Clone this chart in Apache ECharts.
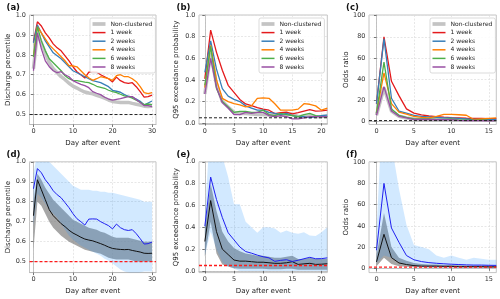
<!DOCTYPE html>
<html><head><meta charset="utf-8">
<script src="https://cdn.jsdelivr.net/npm/echarts@6/dist/echarts.min.js"></script>
<style>html,body{margin:0;padding:0;background:#fff}#c{width:500px;height:299px}</style>
</head><body><div id="c"></div><script>
// ---------------- data ----------------
const daysLong = [0,1,2,3,4,5,6,7,8,9,10,11,12,13,14,15,16,17,18,19,20,21,22,23,24,25,26,27,28,29,30];
const daysMid = [0,1,2,3,4,5,6,7,8,9,10,11,12,13,14,15,16,17,18,19,20,21];
const daysShort = [0,1,2,3,4,5,6,7,8,9,10,11,12,13,14,15,16];

const seriesNames = ['Non-clustered','1 week','2 weeks','4 weeks','6 weeks','8 weeks'];

// (a) discharge percentile
const pctNC  = [0.73,0.91,0.86,0.81,0.76,0.73,0.71,0.69,0.675,0.657,0.643,0.633,0.622,0.613,0.608,0.604,0.597,0.59,0.582,0.573,0.566,0.563,0.561,0.56,0.561,0.556,0.552,0.548,0.542,0.541,0.542];
const pct1w  = [0.865,0.966,0.945,0.91,0.885,0.855,0.835,0.82,0.795,0.77,0.74,0.715,0.70,0.683,0.713,0.714,0.713,0.70,0.69,0.68,0.664,0.688,0.67,0.66,0.656,0.66,0.64,0.615,0.588,0.59,0.598];
const pct2w  = [0.86,0.95,0.91,0.87,0.84,0.81,0.795,0.78,0.76,0.74,0.72,0.71,0.70,0.69,0.68,0.67,0.665,0.66,0.65,0.64,0.622,0.617,0.612,0.60,0.592,0.588,0.578,0.567,0.548,0.558,0.568];
const pct4w  = [0.79,0.94,0.91,0.88,0.85,0.83,0.81,0.79,0.77,0.745,0.745,0.74,0.72,0.70,0.685,0.672,0.68,0.69,0.685,0.68,0.672,0.695,0.70,0.69,0.69,0.68,0.665,0.64,0.61,0.605,0.61];
const pct6w  = [0.79,0.94,0.87,0.82,0.78,0.76,0.74,0.72,0.695,0.68,0.672,0.67,0.667,0.663,0.66,0.652,0.642,0.637,0.632,0.622,0.615,0.61,0.602,0.594,0.59,0.582,0.572,0.562,0.55,0.553,0.55];
const pct8w  = [0.72,0.91,0.83,0.77,0.74,0.72,0.71,0.715,0.70,0.69,0.67,0.66,0.652,0.645,0.635,0.615,0.607,0.60,0.587,0.578,0.572,0.576,0.58,0.585,0.59,0.59,0.575,0.56,0.545,0.545,0.54];
// (d) spreads
const pctNCLow  = [0.56,0.80,0.78,0.74,0.70,0.67,0.65,0.63,0.615,0.60,0.59,0.58,0.57,0.56,0.555,0.55,0.545,0.54,0.53,0.52,0.515,0.51,0.51,0.51,0.51,0.505,0.50,0.50,0.50,0.50,0.50];
const pctNCHigh = [0.80,0.94,0.91,0.87,0.84,0.81,0.79,0.77,0.75,0.73,0.71,0.70,0.69,0.68,0.67,0.665,0.66,0.65,0.645,0.635,0.625,0.62,0.62,0.62,0.62,0.615,0.61,0.605,0.60,0.60,0.60];
const pct1wLow  = [0.68,0.84,0.82,0.79,0.76,0.74,0.72,0.69,0.66,0.63,0.61,0.595,0.58,0.57,0.56,0.55,0.54,0.53,0.515,0.505,0.49,0.475,0.46,0.45,0.445,0.44,0.44,0.445,0.45,0.45,0.45];
const pct1wHigh = [0.94,1.05,1.04,1.02,1.0,0.98,0.96,0.94,0.92,0.9,0.88,0.87,0.86,0.86,0.86,0.855,0.855,0.85,0.85,0.845,0.845,0.84,0.835,0.83,0.825,0.82,0.815,0.81,0.80,0.80,0.80];

// (b) Q95 exceedance probability
const q95NC = [0.27,0.645,0.36,0.2,0.15,0.1,0.09,0.09,0.085,0.08,0.08,0.075,0.07,0.07,0.075,0.085,0.06,0.065,0.07,0.06,0.062,0.066];
const q951w = [0.41,0.86,0.655,0.49,0.35,0.285,0.22,0.178,0.163,0.145,0.13,0.12,0.088,0.097,0.103,0.087,0.098,0.112,0.125,0.112,0.113,0.12];
const q952w = [0.47,0.76,0.5,0.32,0.25,0.22,0.2,0.16,0.14,0.12,0.12,0.1,0.09,0.08,0.09,0.07,0.06,0.06,0.05,0.06,0.07,0.075];
const q954w = [0.33,0.72,0.4,0.23,0.2,0.18,0.17,0.15,0.16,0.23,0.235,0.23,0.18,0.12,0.12,0.12,0.13,0.18,0.175,0.16,0.12,0.14];
const q956w = [0.35,0.71,0.32,0.2,0.15,0.1,0.11,0.11,0.1,0.1,0.12,0.08,0.07,0.09,0.08,0.07,0.06,0.08,0.09,0.07,0.06,0.06];
const q958w = [0.27,0.6,0.33,0.19,0.14,0.08,0.08,0.1,0.09,0.1,0.1,0.07,0.06,0.07,0.06,0.04,0.04,0.05,0.06,0.06,0.06,0.06];
// (e) spreads
const q95NCLow  = [0.13,0.45,0.16,0.06,0.04,0.025,0.02,0.02,0.02,0.02,0.02,0.015,0.015,0.015,0.02,0.02,0.01,0.01,0.01,0.01,0.01,0.01];
const q95NCHigh = [0.40,0.80,0.55,0.36,0.27,0.21,0.18,0.16,0.15,0.14,0.14,0.13,0.12,0.12,0.13,0.14,0.11,0.11,0.12,0.11,0.11,0.11];
const q951wLow  = [0.14,0.36,0.2,0.08,0.04,0.02,0,0,0,0,0,0,0,0,0,0,0,0,0,0,0,0];
const q951wHigh = [0.5,1.4,1.3,1.05,0.86,0.61,0.61,0.45,0.4,0.35,0.4,0.4,0.39,0.35,0.37,0.35,0.34,0.355,0.325,0.32,0.355,0.4];

// (c) odds ratio
const orNC = [6,32,10,5,3.5,2.5,2,2,2,1.8,1.8,1.5,1.5,1.5,1.5,1.3,1.3];
const or1w = [17,80,38,24.5,12,8,6.3,5.3,4.7,4.2,3.8,3.5,3.2,3,3,2.8,2.7];
const or2w = [17,78,22,10,8,6,5,4.5,4,3.5,3.5,3,2.5,2,2,2,2];
const or4w = [8,46,17,9,7,5,4,3.5,5,6.8,6.8,6.5,6,2,2.5,3,3.5];
const or6w = [8,56,12,6,4,2.5,2.5,2.5,2,2,2.5,1.5,1.5,1.5,1.5,1.2,1];
const or8w = [6,33,10,5,3.5,2,2,2,1.8,1.8,1.8,1.2,1,1.2,1,0.8,1];
// (f) spreads
const orNCLow  = [2,10,4,2,1.5,1,1,0.8,0.8,0.7,0.7,0.6,0.6,0.6,0.6,0.5,0.5];
const orNCHigh = [12,52,20,10,7,5,4,3.5,3.5,3,3,2.8,2.7,2.7,2.6,2.5,2.5];
const or1wLow  = [5,12,10,6,3,2,1.5,1.2,1,1,1,0.8,0.8,0.8,0.8,0.7,0.7];
const or1wHigh = [35,180,117,75,41,22,20,18,12,10,12,10,8,10,9,8,8];

// reference levels
const refPct = 0.5, refQ95 = 0.05, refOR = 1;

// tick labels
const xTicksLong = [0,10,20,30];
const xTicksMid = [0,5,10,15,20];
const xTicksShort = [0,5,10,15];
const yTicksPct = [0.5,0.6,0.7,0.8,0.9,1.0];
const yTicksQ95 = [0,0.2,0.4,0.6,0.8,1.0];
const yTicksOR = [0,20,40,60,80,100];

// ---------------- styling ----------------
const FONT = 'DejaVu Sans';
const colors = ['#c4c4c4','#e41a1c','#377eb8','#ff7f00','#4daf4a','#984ea3'];

const grids = [
  {left:29.5, top:15, width:126.5, height:109.5},
  {left:199, top:15, width:128.3, height:109.5},
  {left:369, top:15, width:127.3, height:109.5},
  {left:29.5, top:161.8, width:126.5, height:110.8},
  {left:199, top:161.8, width:128.3, height:110.8},
  {left:369, top:161.8, width:127.3, height:110.8}
].map(g => Object.assign(g, {show:true, borderColor:'#b5b5b5', borderWidth:0.8, backgroundColor:'transparent'}));

function xAx(gi, min, max, ticks) {
  return {type:'value', gridIndex:gi, min, max,
    name:'Day after event', nameLocation:'middle', nameGap:15,
    nameTextStyle:{fontSize:7, color:'#222', fontFamily:FONT},
    axisLine:{show:true, lineStyle:{color:'#b5b5b5', width:0.8}},
    axisTick:{show:true, length:2.5, customValues:ticks, lineStyle:{color:'#555', width:0.8}},
    axisLabel:{customValues:ticks, fontSize:6.5, color:'#333', margin:3.5, fontFamily:FONT},
    splitLine:{show:true, lineStyle:{color:'#dcdcdc', type:[2,1.5], width:0.7}}};
}
function yAx(gi, min, max, ticks, name, gap, dec) {
  return {type:'value', gridIndex:gi, min, max,
    name, nameLocation:'middle', nameGap:gap,
    nameTextStyle:{fontSize:7, color:'#222', fontFamily:FONT},
    axisLine:{show:true, lineStyle:{color:'#b5b5b5', width:0.8}},
    axisTick:{show:true, length:2.5, customValues:ticks, lineStyle:{color:'#555', width:0.8}},
    axisLabel:{customValues:ticks, fontSize:6.5, color:'#333', margin:3.5, fontFamily:FONT,
      formatter: v => dec ? Number(v).toFixed(1) : String(Math.round(v))},
    splitLine:{show:true, lineStyle:{color:'#dcdcdc', type:[2,1.5], width:0.7}}};
}

const pairs = (xs, ys) => xs.map((x, i) => [x, ys[i]]);

function line(name, gi, xs, ys, color, width) {
  return {type:'line', name, xAxisIndex:gi, yAxisIndex:gi, data:pairs(xs, ys),
    symbol:'none', clip:true, silent:true, z:3,
    lineStyle:{color, width}, itemStyle:{color}};
}
// horizontal reference level drawn as a two-point line across the x range
function refLine(name, gi, xmin, xmax, y, color, width) {
  return {type:'line', name, xAxisIndex:gi, yAxisIndex:gi, data:[[xmin, y], [xmax, y]],
    symbol:'none', clip:true, silent:true, z:4,
    lineStyle:{color, width, type:[3,2]}, itemStyle:{color}};
}
// shaded spread between lo and hi, drawn as one polygon through the axis scales
function band(id, gi, xs, lo, hi, color, z) {
  return {type:'custom', name:id, xAxisIndex:gi, yAxisIndex:gi, clip:true, silent:true, z,
    data: xs.map((x, i) => [x, lo[i], hi[i]]),
    encode:{x:0, y:[1,2]},
    renderItem: (params, api) => {
      if (params.dataIndex !== 0) return null;
      const pts = [];
      for (let i = 0; i < xs.length; i++) pts.push(api.coord([xs[i], hi[i]]));
      for (let i = xs.length - 1; i >= 0; i--) pts.push(api.coord([xs[i], lo[i]]));
      return {type:'polygon', shape:{points:pts}, style:{fill:color}};
    }};
}

const xLims = [[-1,31],[-1,21],[-1,16],[-1,31],[-1,21],[-1,16]];
const series = [];
// top row
const topSets = [
  [0, daysLong, [pctNC,pct1w,pct2w,pct4w,pct6w,pct8w], refPct],
  [1, daysMid, [q95NC,q951w,q952w,q954w,q956w,q958w], refQ95],
  [2, daysShort, [orNC,or1w,or2w,or4w,or6w,or8w], refOR]
];
topSets.forEach(([gi, xs, sets, ref]) => {
  sets.forEach((ys, k) => {
    series.push(line(seriesNames[k], gi, xs, ys, colors[k], k === 0 ? 3.5 : 1.3));
  });
  series.push(refLine('ref-'+gi, gi, xLims[gi][0], xLims[gi][1], ref, '#222', 1));
});
// bottom row
const GRAYBAND = 'rgba(128,128,128,0.7)';
const BLUEBAND = 'rgba(30,144,255,0.2)';
const botSets = [
  [3, daysLong, pctNC, pct1w, pctNCLow, pctNCHigh, pct1wLow, pct1wHigh, refPct],
  [4, daysMid, q95NC, q951w, q95NCLow, q95NCHigh, q951wLow, q951wHigh, refQ95],
  [5, daysShort, orNC, or1w, orNCLow, orNCHigh, or1wLow, or1wHigh, refOR]
];
botSets.forEach(([gi, xs, nc, w1, ncLo, ncHi, wLo, wHi, ref]) => {
  series.push(band('nc-band-'+gi, gi, xs, ncLo, ncHi, GRAYBAND, 1));
  series.push(band('w-band-'+gi, gi, xs, wLo, wHi, BLUEBAND, 2));
  series.push(line('mean-nc-'+gi, gi, xs, nc, '#111', 1));
  series.push(line('mean-1w-'+gi, gi, xs, w1, '#2020f0', 1));
  series.push(refLine('ref-'+gi, gi, xLims[gi][0], xLims[gi][1], ref, '#ff1a1a', 1.3));
});

const thinIcon = 'path://M0,0L14,0L14,1.6L0,1.6Z';
const thickIcon = 'path://M0,0L14,0L14,4L0,4Z';
const legendData = seriesNames.map((n, k) => ({name:n, icon: k === 0 ? thickIcon : thinIcon,
  itemStyle:{color:colors[k], borderWidth:0}}));
const legendBase = {orient:'vertical', top:18, padding:[2.5,3,2.5,2.5], itemGap:1.6,
  itemWidth:13, itemHeight:4, borderColor:'#cccccc', borderWidth:0.7, borderRadius:2,
  backgroundColor:'rgba(255,255,255,0.85)', selectedMode:false, data:legendData,
  textStyle:{fontSize:6, lineHeight:7, color:'#222', fontFamily:FONT}};

const titlePos = [[6.5,3.5,'(a)'],[176.5,3.5,'(b)'],[346,3.5,'(c)'],[6.5,150.5,'(d)'],[176.5,150.5,'(e)'],[346,150.5,'(f)']];

const option = {
  animation:false,
  backgroundColor:'#fff',
  title: titlePos.map(([l,t,txt]) => ({text:txt, left:l, top:t, padding:0,
    textStyle:{fontSize:8.5, fontWeight:'bold', color:'#111', fontFamily:FONT}})),
  legend: [Object.assign({}, legendBase, {left:90}),
           Object.assign({}, legendBase, {left:259}),
           Object.assign({}, legendBase, {left:430})],
  grid: grids,
  xAxis: xLims.map((lim, gi) => xAx(gi, lim[0], lim[1], [xTicksLong, xTicksMid, xTicksShort][gi % 3])),
  yAxis: [yAx(0,0.45,1.0,yTicksPct,'Discharge percentile',18,true),
          yAx(1,-0.012,1.0,yTicksQ95,'Q95 exceedance probability',19.5,true),
          yAx(2,-2.7,100.5,yTicksOR,'Odds ratio',17,false),
          yAx(3,0.445,1.0,yTicksPct,'Discharge percentile',18,true),
          yAx(4,-0.015,1.0,yTicksQ95,'Q95 exceedance probability',19.5,true),
          yAx(5,-4.1,100.4,yTicksOR,'Odds ratio',17,false)],
  series
};
const chart = echarts.init(document.getElementById('c'), null, {renderer:'canvas'});
chart.setOption(option);
</script></body></html>
